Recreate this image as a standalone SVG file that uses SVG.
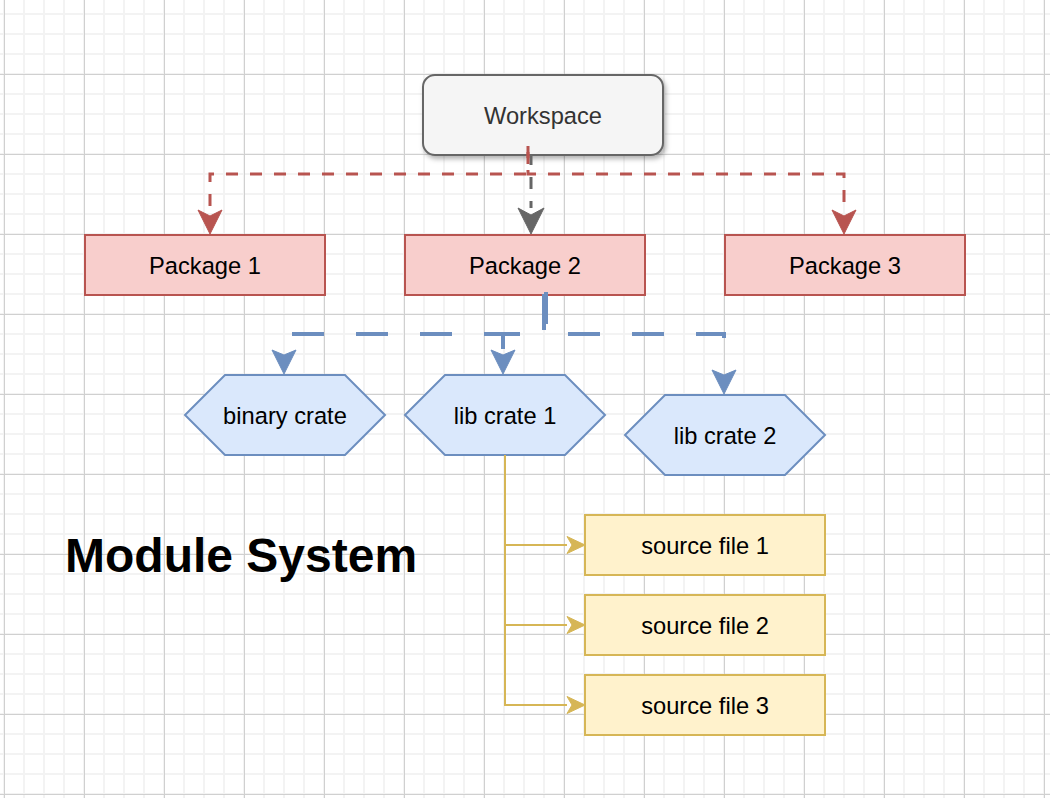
<svg xmlns="http://www.w3.org/2000/svg" width="1050" height="798" viewBox="0 0 1050 798">
<defs>
<pattern id="gridMinor" patternUnits="userSpaceOnUse" x="3" y="13" width="20" height="20"><rect x="0" y="0" width="20" height="2" fill="#f3f3f3"/><rect x="0" y="0" width="2" height="20" fill="#f3f3f3"/></pattern>
<pattern id="gridMajor" patternUnits="userSpaceOnUse" x="4" y="74" width="80" height="80"><rect x="0" y="0" width="80" height="1" fill="#d0d0d0"/><rect x="0" y="0" width="1" height="80" fill="#d0d0d0"/></pattern>
<filter id="shadow" x="-10%" y="-20%" width="130%" height="160%"><feDropShadow dx="2" dy="3" stdDeviation="2.5" flood-color="#000" flood-opacity="0.3"/></filter>
<marker id="arrRed" markerUnits="userSpaceOnUse" markerWidth="40" markerHeight="40" refX="0" refY="0" orient="auto" overflow="visible"><path d="M24,0 L0,-12 L6,0 L0,12 Z" fill="#b85450" stroke="#b85450" stroke-width="1" stroke-dasharray="none"/></marker>
<marker id="arrGray" markerUnits="userSpaceOnUse" markerWidth="40" markerHeight="40" refX="0" refY="0" orient="auto" overflow="visible"><path d="M26,0 L0,-13 L7,0 L0,13 Z" fill="#666666" stroke="#666666" stroke-width="1" stroke-dasharray="none"/></marker>
<marker id="arrBlue" markerUnits="userSpaceOnUse" markerWidth="40" markerHeight="40" refX="0" refY="0" orient="auto" overflow="visible"><path d="M24,0 L0,-12 L5,0 L0,12 Z" fill="#6c8ebf" stroke="#6c8ebf" stroke-width="1" stroke-dasharray="none"/></marker>
<marker id="arrYellow" markerUnits="userSpaceOnUse" markerWidth="30" markerHeight="30" refX="0" refY="0" orient="auto" overflow="visible"><path d="M18,0 L0,-8.5 L5,0 L0,8.5 Z" fill="#d6b656" stroke="#d6b656" stroke-width="1"/></marker>
</defs>
<style>
.lbl{font-family:"Liberation Sans",Arial,Helvetica,sans-serif;font-size:23.7px;text-anchor:middle;fill:#000}
.ws{fill:#f5f5f5;stroke:#666666;stroke-width:2}
.pkg{fill:#f8cecc;stroke:#b85450;stroke-width:2}
.crate{fill:#dae8fc;stroke:#6c8ebf;stroke-width:2}
.src{fill:#fff2cc;stroke:#d6b656;stroke-width:2}
.e-red{fill:none;stroke:#b85450;stroke-width:3;stroke-dasharray:12 12;marker-end:url(#arrRed)}
.e-gray{fill:none;stroke:#666666;stroke-width:3;stroke-dasharray:12 12;marker-end:url(#arrGray)}
.e-blue{fill:none;stroke:#6c8ebf;stroke-width:4;stroke-dasharray:32 32;marker-end:url(#arrBlue)}
.e-yel{fill:none;stroke:#d6b656;stroke-width:2;marker-end:url(#arrYellow)}
.title{font-family:"Liberation Sans",Arial,Helvetica,sans-serif;font-size:48px;font-weight:bold;fill:#000}
</style>
<rect x="0" y="0" width="1050" height="798" fill="#ffffff"/>
<rect x="0" y="0" width="1050" height="798" fill="url(#gridMinor)"/>
<rect x="0" y="0" width="1050" height="798" fill="url(#gridMajor)"/>

<g id="workspace"><rect class="ws" x="423" y="75" width="240" height="80" rx="12" ry="12" filter="url(#shadow)"/><text class="lbl" x="543" y="123.5" style="fill:#333333">Workspace</text></g>
<g id="package1"><rect class="pkg" x="85" y="235" width="240" height="60"/><text class="lbl" x="205" y="273.5">Package 1</text></g>
<g id="package2"><rect class="pkg" x="405" y="235" width="240" height="60"/><text class="lbl" x="525" y="273.5">Package 2</text></g>
<g id="package3"><rect class="pkg" x="725" y="235" width="240" height="60"/><text class="lbl" x="845" y="273.5">Package 3</text></g>
<g id="binary-crate"><polygon class="crate" points="185,415 225,375 345,375 385,415 345,455 225,455"/><text class="lbl" x="285" y="423.5">binary crate</text></g>
<g id="lib-crate-1"><polygon class="crate" points="405,415 445,375 565,375 605,415 565,455 445,455"/><text class="lbl" x="505" y="423.5">lib crate 1</text></g>
<g id="lib-crate-2"><polygon class="crate" points="625,435 665,395 785,395 825,435 785,475 665,475"/><text class="lbl" x="725" y="443.5">lib crate 2</text></g>
<g id="source-file-1"><rect class="src" x="585" y="515" width="240" height="60"/><text class="lbl" x="705" y="553.5">source file 1</text></g>
<g id="source-file-2"><rect class="src" x="585" y="595" width="240" height="60"/><text class="lbl" x="705" y="633.5">source file 2</text></g>
<g id="source-file-3"><rect class="src" x="585" y="675" width="240" height="60"/><text class="lbl" x="705" y="713.5">source file 3</text></g>
<g id="title"><text class="title" x="65" y="572">Module System</text></g>

<g id="connectors">
<path class="e-gray" d="M531 155 V208" style="stroke-dashoffset:2"/>
<path class="e-red" d="M528 146 V174 H210 V210" style="stroke-dashoffset:18"/>
<path class="e-red" d="M528 146 V174 H844 V210" style="stroke-dashoffset:0"/>
<path class="e-blue" d="M544 292 V334 H284 V350" style="stroke-dashoffset:58"/>
<path class="e-blue" d="M544 292 V334 H503 V350" style="stroke-dashoffset:62"/>
<path class="e-blue" d="M546 292 V334 H724 V370" style="stroke-dashoffset:0"/>
<path class="e-yel" d="M505 455 V545 H567"/>
<path class="e-yel" d="M505 455 V625 H567"/>
<path class="e-yel" d="M505 455 V705 H567"/>
</g>
</svg>
